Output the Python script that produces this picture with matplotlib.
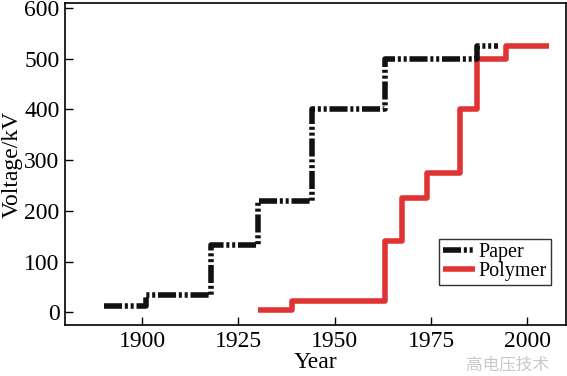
import matplotlib
matplotlib.use("Agg")
import matplotlib.pyplot as plt

paper_years = [1890, 1901, 1918, 1930, 1944, 1963, 1987, 1992.5]
paper_kv = [12, 35, 133, 220, 400, 500, 525, 525]
polymer_years = [1930, 1939, 1963, 1967.5, 1974, 1982.5, 1987, 1994.5, 2005.5]
polymer_kv = [5, 23, 140, 225, 275, 400, 500, 525, 525]
xticks = [1900, 1925, 1950, 1975, 2000]
yticks = [0, 100, 200, 300, 400, 500, 600]

plt.rcParams['font.family'] = ['Liberation Serif', 'DejaVu Serif']
plt.rcParams['lines.scale_dashes'] = False

fig = plt.figure(figsize=(5.67, 3.76), dpi=100)
ax = fig.add_axes([0.1146, 0.1356, 0.8834, 0.8564])

ax.step(polymer_years, polymer_kv, where='post', color='#e03434', lw=4.0,
        solid_capstyle='butt', label='Polymer', zorder=2)
ax.step(paper_years, paper_kv, where='post', color='#111111', lw=4.0,
        dashes=(13, 2, 2.2, 2, 2.2, 2), label='Paper', zorder=3)

ax.set_xlim(1880, 2010)
ax.set_ylim(-25, 610)
ax.set_xticks(xticks)
ax.set_yticks(yticks)
ax.tick_params(direction='in', length=6, width=1, labelsize=17, pad=4)
for s in ax.spines.values():
    s.set_linewidth(1.2)
ax.set_xlabel('Year', fontsize=17, labelpad=0)
ax.set_ylabel('Voltage/kV', fontsize=17, labelpad=1)

h, l = ax.get_legend_handles_labels()
leg = ax.legend(h[::-1], l[::-1], loc='lower right', bbox_to_anchor=(0.97, 0.125),
                fontsize=14.5, frameon=True, fancybox=False, edgecolor='black',
                handlelength=1.55, handletextpad=0.2, borderpad=0.2,
                labelspacing=0.0, borderaxespad=0)
leg.get_frame().set_linewidth(1.0)

fig.text(0.895, 0.03, '高电压技术', fontsize=12, color='#bbbbbb', alpha=0.8,
         family=['Noto Sans CJK SC', 'DejaVu Sans'], ha='center', va='center')

fig.savefig('out.png', dpi=100)
